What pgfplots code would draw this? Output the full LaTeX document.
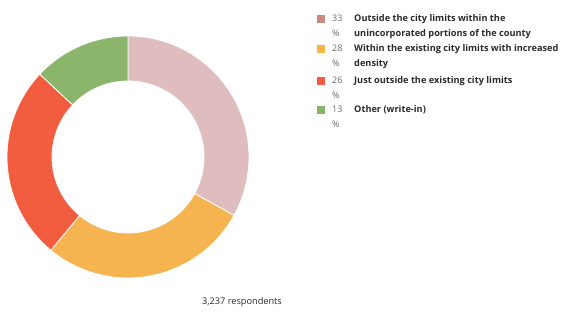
\documentclass[border=0pt]{standalone}
\usepackage{pgfplots}
\pgfplotsset{compat=1.18}
\usepackage{pgfplotstable}
\usepackage{fontspec}
\setmainfont{Open Sans}
\definecolor{cpink}{HTML}{DFBCBE}
\definecolor{cyellow}{HTML}{F6B451}
\definecolor{cred}{HTML}{F25D40}
\definecolor{cgreen}{HTML}{8BB56B}
\definecolor{spink}{HTML}{C98A80}
\definecolor{syellow}{HTML}{F6B443}
\definecolor{sred}{HTML}{F05A3E}
\definecolor{sgreen}{HTML}{86B56A}
\definecolor{txt}{HTML}{2A2A2A}
\definecolor{num}{HTML}{6A6A6A}
\pgfplotstableread{
value
33
28
26
13
}\slices
\begin{document}
\begin{tikzpicture}
\begin{axis}[x=1pt,y=1pt,xmin=0,xmax=563,ymin=0,ymax=320,hide axis,scale only axis,clip=false]
\path (axis cs:0,0) rectangle (axis cs:563,320);
\gdef\cum{0}
\foreach \i/\c in {0/cpink,1/cyellow,2/cred,3/cgreen}{
  \pgfplotstablegetelem{\i}{value}\of\slices
  \let\v\pgfplotsretval
  \pgfmathsetmacro\a{90-3.6*\cum}
  \pgfmathsetmacro\b{90-3.6*(\cum+\v)}
  \pgfmathsetmacro\newcum{\cum+\v}
  \xdef\cum{\newcum}
  \pgfmathsetmacro\xa{128+121*cos(\a)}
  \pgfmathsetmacro\ya{163+121*sin(\a)}
  \pgfmathsetmacro\xb{128+76*cos(\b)}
  \pgfmathsetmacro\yb{163+76*sin(\b)}
  \edef\temp{\noexpand\filldraw[fill=\c, draw=white, line width=0.8pt] (axis cs:\xa,\ya) arc[start angle=\a, end angle=\b, radius=121pt] -- (axis cs:\xb,\yb) arc[start angle=\b, end angle=\a, radius=76pt] -- cycle;}
  \temp
}
% legend
\fill[spink] (axis cs:317,297) rectangle (axis cs:325,305);
\fill[syellow] (axis cs:317,267) rectangle (axis cs:325,275);
\fill[sred] (axis cs:317,235) rectangle (axis cs:325,243);
\fill[sgreen] (axis cs:317,206) rectangle (axis cs:325,214);
\begin{scope}[every node/.style={inner sep=0pt, font=\fontsize{9}{15}\selectfont}]
\node[anchor=base west, text=num] at (axis cs:332,298) {33};
\node[anchor=base west, text=num] at (axis cs:332,283) {\%};
\node[anchor=base west, text=num] at (axis cs:332,268) {28};
\node[anchor=base west, text=num] at (axis cs:332,253) {\%};
\node[anchor=base west, text=num] at (axis cs:332,236) {26};
\node[anchor=base west, text=num] at (axis cs:332,221) {\%};
\node[anchor=base west, text=num] at (axis cs:332,207) {13};
\node[anchor=base west, text=num] at (axis cs:332,192) {\%};
\node[anchor=base west, text=txt, font=\fontsize{9.2}{15}\selectfont\bfseries] at (axis cs:354,298) {Outside the city limits within the};
\node[anchor=base west, text=txt, font=\fontsize{9.2}{15}\selectfont\bfseries] at (axis cs:354,283) {unincorporated portions of the county};
\node[anchor=base west, text=txt, font=\fontsize{9.2}{15}\selectfont\bfseries] at (axis cs:354,268) {Within the existing city limits with increased};
\node[anchor=base west, text=txt, font=\fontsize{9.2}{15}\selectfont\bfseries] at (axis cs:354,253) {density};
\node[anchor=base west, text=txt, font=\fontsize{9.2}{15}\selectfont\bfseries] at (axis cs:354,236) {Just outside the existing city limits};
\node[anchor=base west, text=txt, font=\fontsize{9.2}{15}\selectfont\bfseries] at (axis cs:354,207) {Other (write-in)};
\node[anchor=base, text=txt, font=\fontsize{9.2}{10}\selectfont] at (axis cs:242,15) {3,237 respondents};
\end{scope}
\end{axis}
\end{tikzpicture}
\end{document}
